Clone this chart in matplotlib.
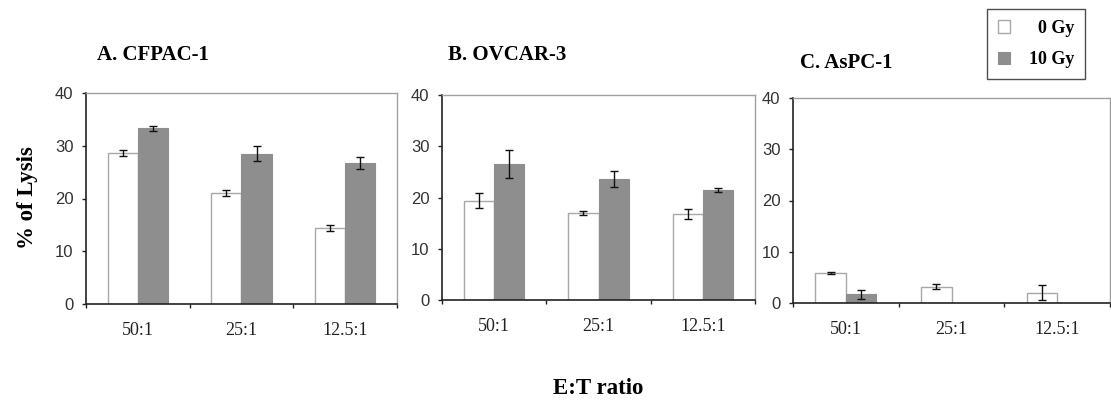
"""Percent lysis at three E:T ratios for three cell lines, 0 Gy vs 10 Gy."""

import numpy as np
from matplotlib import pyplot
from matplotlib.ticker import FixedLocator, NullFormatter

# data
ratios = ['50:1', '25:1', '12.5:1']
panels = ['A. CFPAC-1', 'B. OVCAR-3', 'C. AsPC-1']
lysis_0gy = [[28.6, 21.1, 14.4],
             [19.4, 17.0, 16.8],
             [5.9, 3.2, 2.0]]
err_0gy = [[0.5, 0.6, 0.5],
           [1.4, 0.35, 0.9],
           [0.15, 0.45, 1.45]]
lysis_10gy = [[33.3, 28.5, 26.7],
              [26.6, 23.6, 21.4],
              [1.7, 0.0, 0.0]]
err_10gy = [[0.45, 1.4, 1.1],
            [2.7, 1.5, 0.4],
            [0.9, 0.0, 0.0]]

W, H = 1111, 403
# axes boxes in pixels: left, top, right, bottom
boxes = [(86, 93, 397, 304), (442, 95, 755, 300), (793, 98, 1110, 303)]
title_pos = [(97, 55), (448, 55), (800, 63)]

serif = 'Liberation Serif'
sans = 'Liberation Sans'
grey_fill = '#8e8e8e'
edge_light = '#a8a8a8'

fig = pyplot.figure(figsize=(W / 100, H / 100), dpi=100)
x = np.arange(len(ratios))
width = 0.29
bars = None
for i, (l, t, r, b) in enumerate(boxes):
    ax = fig.add_axes([l / W, 1 - b / H, (r - l) / W, (b - t) / H])
    b0 = ax.bar(x - width / 2, lysis_0gy[i], width, color='white',
                edgecolor=edge_light, linewidth=1.0,
                yerr=err_0gy[i], capsize=3,
                error_kw=dict(ecolor='#111111', elinewidth=1.0, capthick=1.0))
    err = [e if e > 0 else np.nan for e in err_10gy[i]]
    b1 = ax.bar(x + width / 2, lysis_10gy[i], width, color=grey_fill,
                edgecolor=grey_fill, linewidth=0.8,
                yerr=err, capsize=3,
                error_kw=dict(ecolor='#111111', elinewidth=1.0, capthick=1.0))
    if bars is None:
        bars = (b0, b1)
    ax.set_xlim(-0.5, 2.5)
    ax.set_ylim(0, 40)
    ax.set_yticks([0, 10, 20, 30, 40])
    for lab in ax.get_yticklabels():
        lab.set_fontfamily(sans)
    ax.tick_params(axis='y', direction='out', length=3, width=1,
                   color='#222222', labelsize=12, pad=6, labelcolor='#333333')
    # major ticks on group boundaries, labels in the middle of each group
    ax.xaxis.set_major_locator(FixedLocator([-0.5, 0.5, 1.5, 2.5]))
    ax.xaxis.set_major_formatter(NullFormatter())
    ax.xaxis.set_minor_locator(FixedLocator(x))
    ax.set_xticklabels(ratios, minor=True, fontfamily=serif, fontsize=13)
    ax.tick_params(axis='x', which='major', direction='out', length=3,
                   width=1, color='#222222')
    ax.tick_params(axis='x', which='minor', length=0, pad=13,
                   labelcolor='#222222')
    for side in ('top', 'right'):
        ax.spines[side].set_color('#a0a0a0')
        ax.spines[side].set_linewidth(1.0)
    for side in ('left', 'bottom'):
        ax.spines[side].set_color('#222222')
        ax.spines[side].set_linewidth(1.2)
    tx, ty = title_pos[i]
    fig.text(tx / W, 1 - ty / H, panels[i], fontfamily=serif,
             fontweight='bold', fontsize=15, ha='left', va='center')

fig.text(27 / W, 1 - 198 / H, '% of Lysis', fontfamily=serif,
         fontweight='bold', fontsize=16.5, rotation=90,
         ha='center', va='center')
fig.text(598 / W, 1 - 388 / H, 'E:T ratio', fontfamily=serif,
         fontweight='bold', fontsize=16.5, ha='center', va='center')

leg = fig.legend(bars, ['  0 Gy', '10 Gy'], loc='upper left',
                 bbox_to_anchor=(987 / W, 1 - 9 / H),
                 prop=dict(family=serif, weight='bold', size=13),
                 frameon=True, fancybox=False, edgecolor='#222222',
                 borderaxespad=0, handlelength=0.7, handleheight=0.7,
                 handletextpad=1.0, labelspacing=0.8, borderpad=0.6)
leg.get_frame().set_linewidth(1.0)

fig.savefig('out.png', dpi=100)
